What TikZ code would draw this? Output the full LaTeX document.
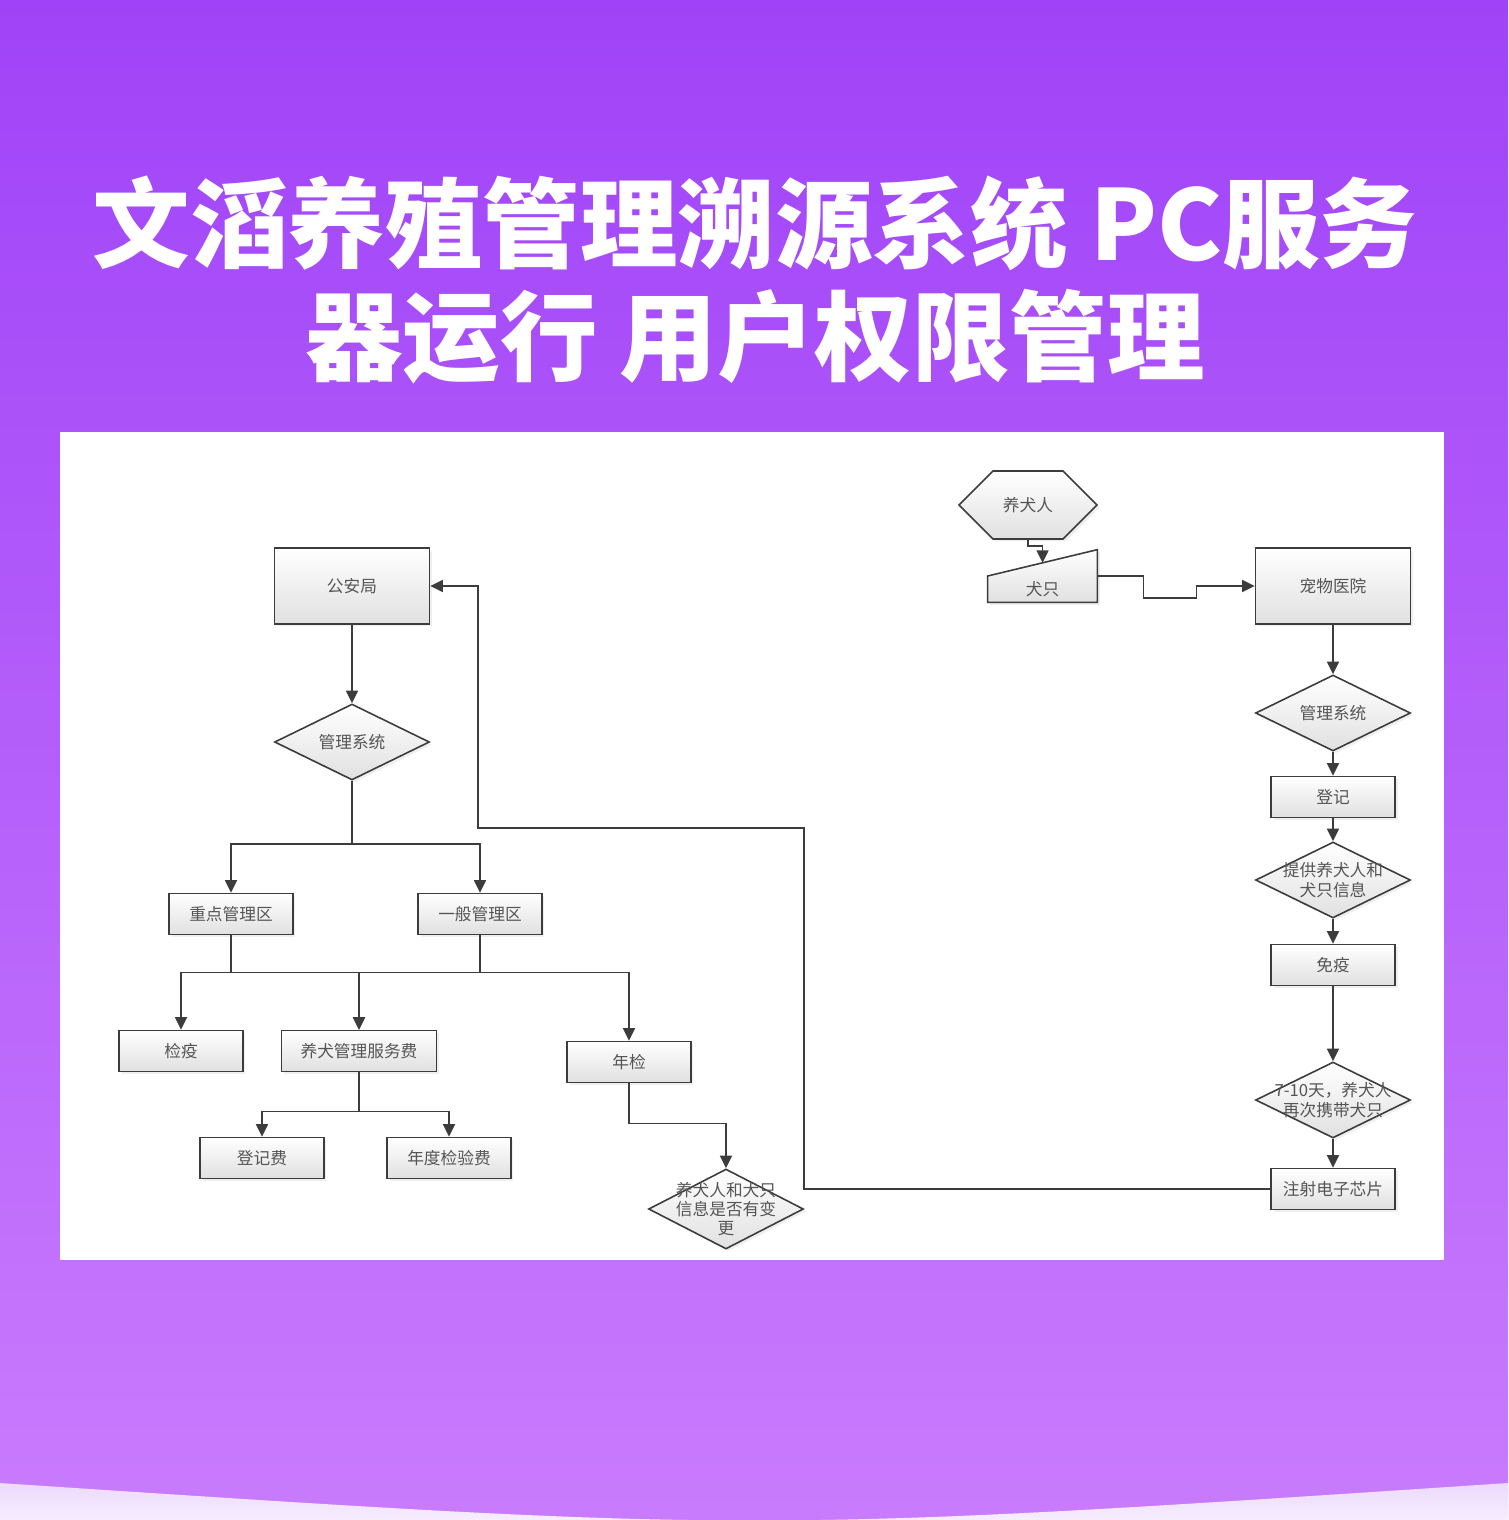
\documentclass[tikz,border=0pt]{standalone}
\usepackage{fontspec}
\setmainfont{Noto Sans CJK SC}
\usetikzlibrary{shapes.geometric,shapes.symbols,arrows.meta,shadows,calc}
\definecolor{bgtop}{HTML}{A043F8}
\definecolor{bgbot}{HTML}{C97BFD}
\definecolor{bandtop}{HTML}{ECD9FD}
\definecolor{bandbot}{HTML}{FAF5FF}
\definecolor{edge}{HTML}{3C3C3C}
\definecolor{txt}{HTML}{555555}
\tikzset{
  shape fill/.style={draw=edge, line width=0.9pt, top color=white, bottom color=black!12,
    drop shadow={shadow xshift=0.05cm, shadow yshift=-0.05cm, opacity=0.12}},
  box/.style={shape fill, text=txt, font=\fontsize{9.5}{11}\selectfont, inner sep=0pt},
  bigbox/.style={box, minimum width=3.1cm, minimum height=1.52cm},
  smallbox/.style={box, minimum width=2.48cm, minimum height=0.82cm},
  dia/.style={box, diamond, minimum width=3.1cm, minimum height=1.52cm},
  hexa/.style={box, signal, signal to=east and west, signal pointer angle=90,
    minimum width=2.76cm, minimum height=1.36cm},
  lbl/.style={text=txt, font=\fontsize{9.5}{11}\selectfont, align=center, inner sep=0pt},
  conn/.style={draw=edge, line width=0.9pt, -{Triangle[length=0.25cm, width=0.24cm]}},
  title/.style={text=white, font=\fontsize{55.5}{60}\selectfont\bfseries, anchor=base, inner sep=0pt},
}
\begin{document}
\begin{tikzpicture}[x=0.02cm, y=-0.02cm]
\useasboundingbox (0,0) rectangle (1508,1520);
\shade[top color=bgtop, bottom color=bgbot] (0,0) rectangle (1508,1520);
\shade[top color=bandtop, bottom color=bandbot] (0,1483) .. controls (754,1533) .. (1508,1483) -- (1508,1520) -- (0,1520) -- cycle;
\fill[white] (60,432) rectangle (1444,1260);

\node[title] (title1) at (755,261) {文滔养殖管理溯源系统 PC服务};
\node[title] (title2) at (755,373) {器运行 用户权限管理};

% left part
\node[bigbox] (police) at (352,586) {公安局};
\node[dia, label={[lbl]center:管理系统}] (sys1) at (352,742) {};
\node[smallbox] (key) at (231,914) {重点管理区};
\node[smallbox] (gen) at (480,914) {一般管理区};
\node[smallbox] (quar) at (181,1051) {检疫};
\node[box, minimum width=3.1cm, minimum height=0.82cm] (fee) at (359,1051) {养犬管理服务费};
\node[smallbox] (annual) at (629,1062) {年检};
\node[smallbox] (regfee) at (262,1158) {登记费};
\node[smallbox] (yearfee) at (449,1158) {年度检验费};
\node[dia, minimum height=1.6cm, label={[lbl]center:{养犬人和犬只\\信息是否有变\\更}}] (change) at (726,1209) {};

\draw[conn] (police.south) -- (sys1.north);
\draw[conn] (sys1.south) -- ++(0,63) -| (key.north);
\draw[conn] (sys1.south) -- ++(0,63) -| (gen.north);
\draw[conn] (key.south) -- ++(0,37) -| (quar.north);
\draw[conn] (key.south) -- ++(0,37) -| (fee.north);
\draw[conn] (gen.south) -- ++(0,37) -| (fee.north);
\draw[conn] (gen.south) -- ++(0,37) -| (annual.north);
\draw[conn] (fee.south) -- ++(0,39) -| (regfee.north);
\draw[conn] (fee.south) -- ++(0,39) -| (yearfee.north);
\draw[conn] (annual.south) -- ++(0,40) -| (change.north);

% right part
\node[hexa] (owner) at (1028,505) {养犬人};
\node[inner sep=0pt, minimum width=2.18cm, minimum height=1.04cm] (dog) at (1042.5,576) {};
\draw[shape fill] (dog.south west) -- (dog.west) -- (dog.north east) -- (dog.south east) -- cycle;
\node[lbl] (dogtext) at ($(dog.center)+(0,13)$) {犬只};
\coordinate (dogin) at ($(dog.west)!0.5!(dog.north east)$);
\node[bigbox] (hosp) at (1333,586) {宠物医院};
\node[dia, label={[lbl]center:管理系统}] (rsys) at (1333,713) {};
\node[smallbox] (reg) at (1333,797) {登记};
\node[dia, label={[lbl]center:{提供养犬人和\\犬只信息}}] (info) at (1333,880) {};
\node[smallbox] (vacc) at (1333,965) {免疫};
\node[dia, label={[lbl]center:{7-10天，养犬人\\再次携带犬只}}] (again) at (1333,1100) {};
\node[smallbox] (chip) at (1333,1189) {注射电子芯片};

\draw[conn] (owner.south) -- ++(0,6) -| (dogin);
\draw[conn] (dog.east) -| ++(46,22) -- ++(53,0) |- (hosp.west);
\draw[conn] (hosp.south) -- (rsys.north);
\draw[conn] (rsys.south) -- (reg.north);
\draw[conn] (reg.south) -- (info.north);
\draw[conn] (info.south) -- (vacc.north);
\draw[conn] (vacc.south) -- (again.north);
\draw[conn] (again.south) -- (chip.north);
\draw[conn] (chip.west) -- ++(-466,0) |- ++(-326,-361) |- (police.east);
\end{tikzpicture}
\end{document}
